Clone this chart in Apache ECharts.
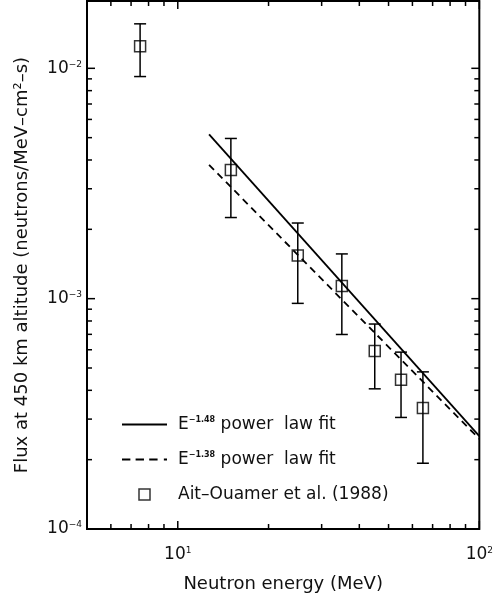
<!DOCTYPE html>
<html>
<head>
<meta charset="utf-8">
<script src="https://cdn.jsdelivr.net/npm/echarts@6/dist/echarts.min.js"></script>
<style>html,body{margin:0;padding:0;background:#fff;}#chart{width:496px;height:598px;}</style>
</head>
<body>
<div id="chart"></div>
<script>
// ---- data ----
const energies = [7.5, 15, 25, 35, 45, 55, 65];                 // MeV
const flux     = [1.247e-2, 3.62e-3, 1.54e-3, 1.134e-3, 5.92e-4, 4.45e-4, 3.35e-4];
const fluxLow  = [9.21e-3, 2.25e-3, 9.54e-4, 6.99e-4, 4.06e-4, 3.05e-4, 1.93e-4];
const fluxHigh = [1.56e-2, 4.96e-3, 2.13e-3, 1.564e-3, 7.76e-4, 5.86e-4, 4.81e-4];

const fitSolidX = [12.7, 100];
const fitSolidY = [5.17e-3, 2.53e-4];
const fitDashX  = [12.7, 100];
const fitDashY  = [3.81e-3, 2.46e-4];

const seriesNames = ['E-1.48', 'E-1.38', 'Ait\u2013Ouamer et al. (1988)'];
const legendExponents = ['\u22121.48', '\u22121.38'];

const xMin = 5, xMax = 100, yMin = 1e-4, yMax = 0.0196;
const xMajorTicks = [10, 100];
const xMinorTicks = [6, 7, 8, 9, 20, 30, 40, 50, 60, 70, 80, 90];
const yMajorTicks = [1e-4, 1e-3, 1e-2];
const yMinorTicks = [2e-4, 3e-4, 4e-4, 5e-4, 6e-4, 7e-4, 8e-4, 9e-4,
                     2e-3, 3e-3, 4e-3, 5e-3, 6e-3, 7e-3, 8e-3, 9e-3];

// ---- build ----
const FONT = 'DejaVu Sans';
const pointData = energies.map((e, i) => [e, flux[i]]);
const errData = energies.map((e, i) => [e, fluxLow[i], fluxHigh[i]]);
const solidData = fitSolidX.map((x, i) => [x, fitSolidY[i]]);
const dashData = fitDashX.map((x, i) => [x, fitDashY[i]]);

function powLabel(v) {
  const l = Math.log10(v);
  const e = Math.round(l);
  if (Math.abs(l - e) > 1e-6) return '';
  const s = (e < 0 ? '\u2212' : '') + Math.abs(e);
  return '{b|10}{s|' + s + '}';
}
const labelRich = {
  b: { fontFamily: FONT, fontSize: 17, color: '#111' },
  s: { fontFamily: FONT, fontSize: 9, color: '#111', verticalAlign: 'top' }
};

const stroke = { stroke: '#000', lineWidth: 1.5 };
const ICON_SOLID = 'path://M0,0H45V2H0Z';
const ICON_DASH = 'path://M0,0H8V2H0Z M13,0H21V2H13Z M26,0H34V2H26Z M40,0H43V2H40Z';
const ICON_SQUARE = 'path://M0,0H10V10H0Z';

const option = {
  animation: false,
  backgroundColor: '#fff',
  grid: { left: 87, right: 14, top: 1, bottom: 63, show: true, borderColor: '#000', borderWidth: 2, backgroundColor: 'transparent' },
  xAxis: {
    type: 'log', logBase: 10, min: xMin, max: xMax,
    name: 'Neutron energy (MeV)', nameLocation: 'middle', nameGap: 46,
    nameTextStyle: { fontFamily: FONT, fontSize: 18, color: '#111' },
    axisLine: { show: false }, axisTick: { show: false }, splitLine: { show: false },
    axisLabel: { margin: 17, formatter: powLabel, rich: labelRich }
  },
  yAxis: {
    type: 'log', logBase: 10, min: yMin, max: yMax,
    name: 'Flux at 450 km altitude (neutrons/MeV\u2013cm\u00b2\u2013s)', nameLocation: 'middle', nameGap: 56,
    nameTextStyle: { fontFamily: FONT, fontSize: 18, color: '#111' },
    axisLine: { show: false }, axisTick: { show: false }, splitLine: { show: false },
    axisLabel: { margin: 5, formatter: powLabel, rich: labelRich }
  },
  legend: {
    orient: 'vertical', left: 117, top: 411, itemWidth: 45, itemHeight: 11, itemGap: 18,
    data: [
      { name: seriesNames[0], icon: ICON_SOLID, itemStyle: { color: '#000', borderWidth: 0 } },
      { name: seriesNames[1], icon: ICON_DASH, itemStyle: { color: '#000', borderWidth: 0 } },
      { name: seriesNames[2], icon: ICON_SQUARE, itemStyle: { color: 'rgba(0,0,0,0)', borderColor: '#000', borderWidth: 1.5 } }
    ],
    formatter: function (name) {
      const i = seriesNames.indexOf(name);
      if (i < 2) return '{t|E}{s|' + legendExponents[i] + '}{t| power  law fit}';
      return '{t|' + name + '}';
    },
    textStyle: {
      padding: [0, 0, 0, 6],
      rich: {
        t: { fontFamily: FONT, fontSize: 17, color: '#111' },
        s: { fontFamily: FONT, fontSize: 8, fontWeight: 'bold', color: '#111', verticalAlign: 'top' }
      }
    }
  },
  series: [
    {
      name: seriesNames[0], type: 'line', data: solidData, symbol: 'none',
      lineStyle: { color: '#000', width: 1.8, type: 'solid' }, itemStyle: { color: '#000' }, z: 3
    },
    {
      name: seriesNames[1], type: 'line', data: dashData, symbol: 'none',
      lineStyle: { color: '#000', width: 1.8, type: [7, 5] }, itemStyle: { color: '#000' }, z: 3
    },
    {
      name: 'errbars', type: 'custom', data: errData, z: 4, silent: true,
      encode: { x: 0, y: [1, 2] },
      renderItem: function (params, api) {
        const x = api.value(0);
        const pLo = api.coord([x, api.value(1)]);
        const pHi = api.coord([x, api.value(2)]);
        const w = 6;
        return { type: 'group', children: [
          { type: 'line', shape: { x1: pLo[0], y1: pLo[1], x2: pHi[0], y2: pHi[1] }, style: stroke },
          { type: 'line', shape: { x1: pLo[0] - w, y1: pLo[1], x2: pLo[0] + w, y2: pLo[1] }, style: stroke },
          { type: 'line', shape: { x1: pHi[0] - w, y1: pHi[1], x2: pHi[0] + w, y2: pHi[1] }, style: stroke }
        ] };
      }
    },
    {
      name: seriesNames[2], type: 'scatter', data: pointData, symbol: 'rect', symbolSize: 11, z: 5,
      itemStyle: { color: 'rgba(0,0,0,0)', borderColor: '#000', borderWidth: 1.5 }
    },
    {
      name: 'xticks', type: 'custom', silent: true, z: 6, clip: false,
      data: xMajorTicks.concat(xMinorTicks).map(v => [v, yMin]),
      renderItem: function (params, api) {
        const v = api.value(0);
        const cs = params.coordSys;
        const x = api.coord([v, yMin])[0];
        const len = xMajorTicks.indexOf(v) >= 0 ? 8 : 5;
        const b = cs.y + cs.height, t = cs.y;
        return { type: 'group', children: [
          { type: 'line', shape: { x1: x, y1: b, x2: x, y2: b - len }, style: stroke },
          { type: 'line', shape: { x1: x, y1: t, x2: x, y2: t + len }, style: stroke }
        ] };
      }
    },
    {
      name: 'yticks', type: 'custom', silent: true, z: 6, clip: false,
      data: yMajorTicks.concat(yMinorTicks).map(v => [xMin, v]),
      renderItem: function (params, api) {
        const v = api.value(1);
        const cs = params.coordSys;
        const y = api.coord([xMin, v])[1];
        const len = yMajorTicks.indexOf(v) >= 0 ? 8 : 5;
        const l = cs.x, r = cs.x + cs.width;
        return { type: 'group', children: [
          { type: 'line', shape: { x1: l, y1: y, x2: l + len, y2: y }, style: stroke },
          { type: 'line', shape: { x1: r, y1: y, x2: r - len, y2: y }, style: stroke }
        ] };
      }
    }
  ]
};

const chart = echarts.init(document.getElementById('chart'), null, { renderer: 'canvas' });
chart.setOption(option);
</script>
</body>
</html>
